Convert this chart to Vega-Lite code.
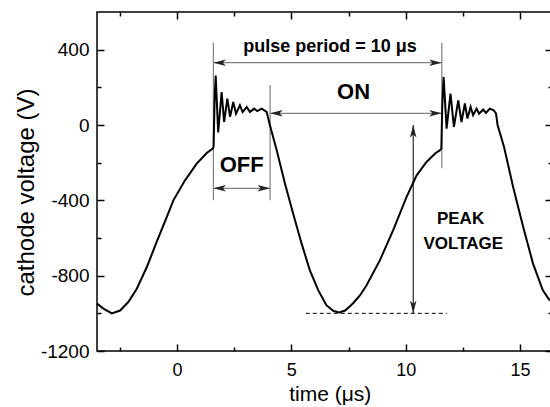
{
  "$schema": "https://vega.github.io/schema/vega-lite/v6.json",
  "width": 455,
  "height": 339,
  "autosize": {"type": "none"},
  "padding": {"left": 97, "top": 12, "right": 0, "bottom": 56},
  "background": "white",
  "datasets": {
    "wave": [
      {"t": -3.5, "v": -948}, {"t": -3.22, "v": -975}, {"t": -2.85, "v": -1000}, {"t": -2.49, "v": -985},
      {"t": -2.13, "v": -940}, {"t": -1.76, "v": -869}, {"t": -1.32, "v": -754}, {"t": -0.89, "v": -621},
      {"t": -0.45, "v": -489}, {"t": -0.16, "v": -400}, {"t": 0.35, "v": -294}, {"t": 0.86, "v": -205},
      {"t": 1.3, "v": -149}, {"t": 1.56, "v": -125}, {"t": 1.6, "v": -115}, {"t": 1.64, "v": 120},
      {"t": 1.69, "v": 262}, {"t": 1.8, "v": -40}, {"t": 1.95, "v": 175}, {"t": 2.06, "v": 16},
      {"t": 2.2, "v": 140}, {"t": 2.32, "v": 43}, {"t": 2.46, "v": 122}, {"t": 2.58, "v": 60},
      {"t": 2.75, "v": 105}, {"t": 2.87, "v": 69}, {"t": 3.05, "v": 96}, {"t": 3.19, "v": 69},
      {"t": 3.37, "v": 87}, {"t": 3.51, "v": 74}, {"t": 3.7, "v": 87}, {"t": 3.92, "v": 70},
      {"t": 4.06, "v": 0}, {"t": 4.36, "v": -134}, {"t": 4.72, "v": -311}, {"t": 5.08, "v": -471},
      {"t": 5.45, "v": -630}, {"t": 5.81, "v": -772}, {"t": 6.18, "v": -878}, {"t": 6.54, "v": -958},
      {"t": 6.85, "v": -988}, {"t": 7.1, "v": -995}, {"t": 7.35, "v": -985}, {"t": 7.56, "v": -963},
      {"t": 7.71, "v": -945}, {"t": 8.0, "v": -905}, {"t": 8.29, "v": -851}, {"t": 8.87, "v": -719},
      {"t": 9.45, "v": -559}, {"t": 10.04, "v": -382}, {"t": 10.48, "v": -267}, {"t": 10.91, "v": -196},
      {"t": 11.3, "v": -150}, {"t": 11.49, "v": -135}, {"t": 11.56, "v": -125}, {"t": 11.6, "v": 100},
      {"t": 11.66, "v": 255}, {"t": 11.79, "v": -19}, {"t": 11.96, "v": 167}, {"t": 12.11, "v": -10},
      {"t": 12.3, "v": 131}, {"t": 12.44, "v": 16}, {"t": 12.59, "v": 114}, {"t": 12.7, "v": 34},
      {"t": 12.84, "v": 96}, {"t": 12.95, "v": 52}, {"t": 13.1, "v": 87}, {"t": 13.21, "v": 60},
      {"t": 13.39, "v": 82}, {"t": 13.51, "v": 64}, {"t": 13.68, "v": 87}, {"t": 13.85, "v": 78},
      {"t": 13.95, "v": 62}, {"t": 14.02, "v": 0}, {"t": 14.3, "v": -115}, {"t": 14.7, "v": -329},
      {"t": 15.14, "v": -542}, {"t": 15.57, "v": -736}, {"t": 16.0, "v": -878}, {"t": 16.3, "v": -931}
    ],
    "vlines": [
      {"t": 1.59, "v1": 437, "v2": -400},
      {"t": 4.07, "v1": 212, "v2": -400},
      {"t": 11.58, "v1": 437, "v2": -230}
    ],
    "hlines": [
      {"t1": 1.59, "t2": 11.58, "v": 331},
      {"t1": 4.07, "t2": 11.58, "v": 62},
      {"t1": 1.59, "t2": 4.07, "v": -336}
    ],
    "heads": [
      {"t": 1.59, "v": 331, "dir": "left"}, {"t": 11.58, "v": 331, "dir": "right"},
      {"t": 4.07, "v": 62, "dir": "left"}, {"t": 11.58, "v": 62, "dir": "right"},
      {"t": 1.59, "v": -336, "dir": "left"}, {"t": 4.07, "v": -336, "dir": "right"},
      {"t": 10.33, "v": 0, "dir": "up"}, {"t": 10.33, "v": -1000, "dir": "down"}
    ],
    "peak": [{"t": 10.33, "v1": 0, "v2": -1000}],
    "dash": [{"t1": 5.63, "t2": 11.8, "v": -1000}],
    "pulse": [{"t": 6.69, "v": 388, "label": "pulse period = 10 μs"}],
    "onoff": [{"t": 7.72, "v": 136, "label": "ON"}, {"t": 2.83, "v": -248, "label": "OFF"}],
    "peaktxt": [{"t": 12.4, "v": -526, "label": "PEAK"}, {"t": 12.52, "v": -660, "label": "VOLTAGE"}]
  },
  "layer": [
    {
      "mark": {"type": "rule", "color": "#000", "strokeWidth": 2},
      "encoding": {
        "y": {"datum": 0, "type": "quantitative", "scale": {"domain": [-1200, 600], "nice": false, "zero": false},
          "axis": {"orient": "right", "values": [-1200, -800, -400, 0, 400], "offset": -7, "tickSize": 7, "labels": false, "title": null}}
      }
    },
    {
      "data": {"name": "vlines"},
      "mark": {"type": "rule", "color": "#808080", "strokeWidth": 1.2},
      "encoding": {
        "x": {"field": "t", "type": "quantitative", "scale": {"domain": [-3.5, 16.4], "nice": false, "zero": false},
          "axis": {"orient": "top", "values": [0, 5, 10, 15], "offset": -7, "tickSize": 7, "labels": false, "title": null}},
        "y": {"field": "v1", "type": "quantitative", "scale": {"domain": [-1200, 600], "nice": false, "zero": false},
          "axis": {"orient": "left", "values": [-1000, -600, -200, 200], "offset": -4, "tickSize": 4, "labels": false, "title": null}},
        "y2": {"field": "v2"}
      }
    },
    {
      "data": {"name": "hlines"},
      "mark": {"type": "rule", "color": "#808080", "strokeWidth": 1.2},
      "encoding": {
        "x": {"field": "t1", "type": "quantitative", "scale": {"domain": [-3.5, 16.4], "nice": false, "zero": false},
          "axis": {"orient": "bottom", "values": [-2.5, 2.5, 7.5, 12.5], "offset": -4, "tickSize": 4, "labels": false, "title": null}},
        "x2": {"field": "t2"},
        "y": {"field": "v", "type": "quantitative", "scale": {"domain": [-1200, 600], "nice": false, "zero": false},
          "axis": {"orient": "right", "values": [-1000, -600, -200, 200], "offset": -4, "tickSize": 4, "labels": false, "title": null}}
      }
    },
    {
      "data": {"name": "peak"},
      "mark": {"type": "rule", "color": "#000", "strokeWidth": 1},
      "encoding": {
        "x": {"field": "t", "type": "quantitative", "scale": {"domain": [-3.5, 16.4], "nice": false, "zero": false},
          "axis": {"orient": "top", "values": [-2.5, 2.5, 7.5, 12.5], "offset": -4, "tickSize": 4, "labels": false, "title": null}},
        "y": {"field": "v1", "type": "quantitative", "scale": {"domain": [-1200, 600], "nice": false, "zero": false}, "axis": null},
        "y2": {"field": "v2"}
      }
    },
    {
      "data": {"name": "dash"},
      "mark": {"type": "rule", "color": "#000", "strokeWidth": 1, "strokeDash": [4, 3]},
      "encoding": {
        "x": {"field": "t1", "type": "quantitative", "scale": {"domain": [-3.5, 16.4], "nice": false, "zero": false}, "axis": null},
        "x2": {"field": "t2"},
        "y": {"field": "v", "type": "quantitative", "scale": {"domain": [-1200, 600], "nice": false, "zero": false}, "axis": null}
      }
    },
    {
      "data": {"name": "heads"},
      "mark": {"type": "point", "filled": true, "size": 100, "color": "#222", "opacity": 1, "strokeWidth": 0},
      "encoding": {
        "x": {"field": "t", "type": "quantitative", "scale": {"domain": [-3.5, 16.4], "nice": false, "zero": false}, "axis": null},
        "y": {"field": "v", "type": "quantitative", "scale": {"domain": [-1200, 600], "nice": false, "zero": false}, "axis": null},
        "shape": {"field": "dir", "type": "nominal", "legend": null,
          "scale": {"domain": ["left", "right", "up", "down"],
            "range": ["M0,0L2.5,-0.65L1.9,0L2.5,0.65Z", "M0,0L-2.5,-0.65L-1.9,0L-2.5,0.65Z", "M0,0L-0.65,2.5L0,1.9L0.65,2.5Z", "M0,0L-0.65,-2.5L0,-1.9L0.65,-2.5Z"]}}
      }
    },
    {
      "data": {"name": "wave"},
      "mark": {"type": "line", "color": "#000", "strokeWidth": 2},
      "encoding": {
        "x": {"field": "t", "type": "quantitative", "scale": {"domain": [-3.5, 16.4], "nice": false, "zero": false},
          "axis": {"orient": "bottom", "values": [0, 5, 10, 15], "offset": -7, "tickSize": 7, "labelPadding": 10, "labelFontSize": 18, "labelExpr": "datum.value + ''",
            "title": "time (μs)", "titleFontSize": 21, "titleX": 232.7, "titleY": 56.5, "titleBaseline": "alphabetic", "titleAlign": "center"}},
        "y": {"field": "v", "type": "quantitative", "scale": {"domain": [-1200, 600], "nice": false, "zero": false},
          "axis": {"orient": "left", "values": [-1200, -800, -400, 0, 400], "offset": -7, "tickSize": 7, "labelPadding": 8, "labelExpr": "datum.value + ''",
            "title": "cathode voltage (V)", "titleFontSize": 24, "titleX": -70.7, "titleY": 180, "titleBaseline": "alphabetic", "titleAlign": "center", "titleAngle": 270}}
      }
    },
    {
      "data": {"name": "pulse"},
      "mark": {"type": "text", "font": "Liberation Sans", "fontWeight": "bold", "fontSize": 18, "align": "center", "baseline": "alphabetic", "color": "#000"},
      "encoding": {
        "x": {"field": "t", "type": "quantitative", "scale": {"domain": [-3.5, 16.4], "nice": false, "zero": false}, "axis": null},
        "y": {"field": "v", "type": "quantitative", "scale": {"domain": [-1200, 600], "nice": false, "zero": false}, "axis": null},
        "text": {"field": "label"}
      }
    },
    {
      "data": {"name": "onoff"},
      "mark": {"type": "text", "font": "Liberation Sans", "fontWeight": "bold", "fontSize": 22, "align": "center", "baseline": "alphabetic", "color": "#000"},
      "encoding": {
        "x": {"field": "t", "type": "quantitative", "scale": {"domain": [-3.5, 16.4], "nice": false, "zero": false}, "axis": null},
        "y": {"field": "v", "type": "quantitative", "scale": {"domain": [-1200, 600], "nice": false, "zero": false}, "axis": null},
        "text": {"field": "label"}
      }
    },
    {
      "data": {"name": "peaktxt"},
      "mark": {"type": "text", "font": "Liberation Sans", "fontWeight": "bold", "fontSize": 17, "align": "center", "baseline": "alphabetic", "color": "#000"},
      "encoding": {
        "x": {"field": "t", "type": "quantitative", "scale": {"domain": [-3.5, 16.4], "nice": false, "zero": false}, "axis": null},
        "y": {"field": "v", "type": "quantitative", "scale": {"domain": [-1200, 600], "nice": false, "zero": false}, "axis": null},
        "text": {"field": "label"}
      }
    }
  ],
  "resolve": {"axis": {"x": "independent", "y": "independent"}},
  "config": {
    "view": {"stroke": "#000", "strokeWidth": 1.5},
    "axis": {
      "domain": false, "tickColor": "#000", "tickWidth": 1.5,
      "labelFont": "Liberation Sans", "labelFontSize": 19, "labelColor": "#000",
      "titleFont": "Liberation Sans", "titleFontWeight": "normal", "titleColor": "#000", "grid": false
    }
  }
}
